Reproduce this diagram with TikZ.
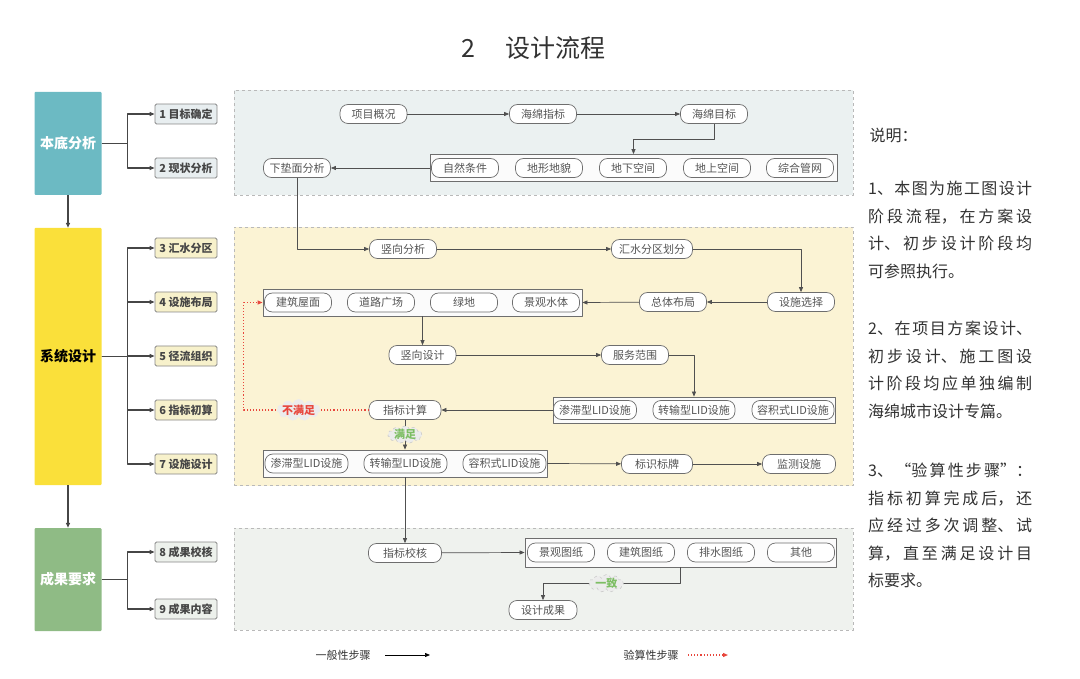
\documentclass[tikz,border=0pt]{standalone}
\usepackage{fontspec}
\setmainfont{Noto Sans CJK SC}
\usetikzlibrary{arrows.meta,shapes.symbols}
\XeTeXlinebreaklocale "zh"
\XeTeXlinebreakskip=0pt plus 3pt

\definecolor{bdcol}{RGB}{108,186,195}
\definecolor{xtcol}{RGB}{250,224,58}
\definecolor{cgcol}{RGB}{143,187,133}
\definecolor{paneA}{RGB}{235,241,241}
\definecolor{paneB}{RGB}{251,243,212}
\definecolor{paneC}{RGB}{239,242,238}
\definecolor{stepA}{RGB}{232,238,240}
\definecolor{stepB}{RGB}{247,241,203}
\definecolor{stepC}{RGB}{237,241,236}
\definecolor{stepline}{RGB}{135,135,135}
\definecolor{steptext}{RGB}{70,70,70}
\definecolor{itemline}{RGB}{110,110,110}
\definecolor{itemtext}{RGB}{85,85,85}
\definecolor{flowline}{RGB}{80,80,80}
\definecolor{branchline}{RGB}{70,70,70}
\definecolor{redline}{RGB}{232,70,60}
\definecolor{okgreen}{RGB}{125,190,100}
\definecolor{notetext}{RGB}{50,50,50}

\tikzset{
	stage/.style = {rectangle, draw = none, rounded corners = 1pt, minimum width = 67pt, minimum height = 103pt, font = \fontsize{14}{14}\selectfont\bfseries},
	stepbox/.style = {rectangle, draw = stepline, line width = .8pt, rounded corners = 1.5pt, minimum width = 62pt, minimum height = 20pt, inner sep = 0pt, font = \fontsize{11}{11}\selectfont\bfseries, text = steptext},
	item/.style = {rectangle, draw = itemline, fill = white, line width = .7pt, rounded corners = 8pt, minimum width = 67pt, minimum height = 19pt, inner sep = 0pt, font = \fontsize{11}{11}\selectfont, text = itemtext},
	group/.style = {rectangle, draw = itemline, fill = white!97!gray, line width = .8pt, inner sep = 0pt},
	panel/.style = {rectangle, draw = gray!55, dashed, line width = .6pt},
	flow/.style = {->, draw = flowline, line width = .7pt},
	branch/.style = {->, draw = branchline, line width = 1.4pt},
	check/.style = {->, draw = redline, dotted, line width = 1.1pt},
	cloudlbl/.style = {cloud, cloud puffs = 11, aspect = 3.2, inner sep = -1.5pt, fill = white!85!gray, draw = gray!45, dashed, line width = .5pt, font = \fontsize{11}{11}\selectfont\bfseries},
	note/.style = {text width = 164pt, align = justify, inner sep = 0pt, font = \fontsize{16}{27.5}\selectfont, text = notetext}
}

\begin{document}
\begin{tikzpicture}[x = 1pt, y = -1pt, line join = round, >={Triangle[length = 5pt, width = 4pt]}]
	\useasboundingbox (0,0) rectangle (1080,679);
	
	\node[anchor = west, font = \fontsize{25}{25}\selectfont, text = notetext] (title) at (458,48) {2\hspace{30pt}设计流程};
	
	% panels
	\node[panel, fill = paneA, minimum width = 619pt, minimum height = 105pt] (p1) at (543.5,143) {};
	\node[panel, fill = paneB, minimum width = 619pt, minimum height = 258pt] (p2) at (543.5,356.5) {};
	\node[panel, fill = paneC, minimum width = 619pt, minimum height = 102pt] (p3) at (543.5,579) {};
	
	% stages
	\node[stage, fill = bdcol, text = white] (bd) at (68,143.5) {本底分析};
	\node[stage, fill = xtcol, text = black, minimum height = 257pt] (xt) at (68,356.5) {系统设计};
	\node[stage, fill = cgcol, text = white] (cg) at (68,579.5) {成果要求};
	\draw[branch] (bd.south) -- (xt.north);
	\draw[branch] (xt.south) -- (cg.north);
	
	\node[stepbox, fill = stepA] (s1) at (186,114) {1 目标确定};
	\node[stepbox, fill = stepA] (s2) at (186,168) {2 现状分析};
	\node[stepbox, fill = stepB] (s3) at (186,248) {3 汇水分区};
	\node[stepbox, fill = stepB] (s4) at (186,302) {4 设施布局};
	\node[stepbox, fill = stepB] (s5) at (186,356) {5 径流组织};
	\node[stepbox, fill = stepB] (s6) at (186,410) {6 指标初算};
	\node[stepbox, fill = stepB] (s7) at (186,464) {7 设施设计};
	\node[stepbox, fill = stepC] (s8) at (186,552) {8 成果校核};
	\node[stepbox, fill = stepC] (s9) at (186,609) {9 成果内容};
	
	\foreach \s in {s1,s2} \draw[branch] (bd.east) -- ++(26,0) |- (\s.west);
	\foreach \s in {s3,s4,s5,s6,s7} \draw[branch] (xt.east) -- ++(26,0) |- (\s.west);
	\foreach \s in {s8,s9} \draw[branch] (cg.east) -- ++(26,0) |- (\s.west);
	
	% panel 1
	\node[item] (xmgk) at (373.5,114) {项目概况};
	\node[item] (hmzb) at (543,114) {海绵指标};
	\node[item] (hmmb) at (714,114) {海绵目标};
	\node[group, minimum width = 407pt, minimum height = 27pt] (g1) at (633.5,168) {};
	\node[item] (zrtj) at (465,168) {自然条件};
	\node[item] (dxdm) at (549,168) {地形地貌};
	\node[item] (dxkj) at (633,168) {地下空间};
	\node[item] (dskj) at (717,168) {地上空间};
	\node[item] (zhgw) at (800,168) {综合管网};
	\node[item] (xdmfx) at (297,168) {下垫面分析};
	
	\draw[flow] (xmgk) -- (hmzb);
	\draw[flow] (hmzb) -- (hmmb);
	\draw[flow] (hmmb.south) -- ++(0,16) -| (g1.north);
	\draw[flow] (g1.west) -- (xdmfx.east);
	
	% panel 2
	\node[item] (sxfx) at (403,249) {竖向分析};
	\node[item, minimum width = 81pt] (hsfq) at (652,249) {汇水分区划分};
	\node[item] (sszx) at (801,302) {设施选择};
	\node[item] (ztbj) at (673,302) {总体布局};
	\node[group, minimum width = 319pt, minimum height = 27pt] (g2) at (422.5,302.5) {};
	\node[item] (jzwm) at (298,302.5) {建筑屋面};
	\node[item] (dlgc) at (381,302.5) {道路广场};
	\node[item] (ld) at (464,302.5) {绿地};
	\node[item] (jgst) at (546,302.5) {景观水体};
	\node[item] (sxsj) at (422.5,355) {竖向设计};
	\node[item] (fwfw) at (635,355) {服务范围};
	\node[group, minimum width = 282pt, minimum height = 26pt] (g3) at (694,410) {};
	\node[item, minimum width = 83pt] (a1) at (595,410) {渗滞型LID设施};
	\node[item, minimum width = 82pt] (a2) at (694,410) {转输型LID设施};
	\node[item, minimum width = 82pt] (a3) at (793,410) {容积式LID设施};
	\node[item, minimum width = 72pt] (zbjs) at (405,410) {指标计算};
	\node[group, minimum width = 284pt, minimum height = 27pt] (g4) at (405,463.5) {};
	\node[item, minimum width = 83pt] (b1) at (306.5,463.5) {渗滞型LID设施};
	\node[item, minimum width = 83pt] (b2) at (405.5,463.5) {转输型LID设施};
	\node[item, minimum width = 83pt] (b3) at (504.5,463.5) {容积式LID设施};
	\node[item, minimum width = 71pt] (bsbp) at (657,464) {标识标牌};
	\node[item, minimum width = 73pt] (jcss) at (799,464) {监测设施};
	
	\draw[flow] (xdmfx.south) |- (sxfx.west);
	\draw[flow] (sxfx) -- (hsfq);
	\draw[flow] (hsfq.east) -| (sszx.north);
	\draw[flow] (sszx) -- (ztbj);
	\draw[flow] (ztbj) -- (g2.east);
	\draw[flow] (g2.south) -- (sxsj.north);
	\draw[flow] (sxsj) -- (fwfw);
	\draw[flow] (fwfw.east) -| (g3.north);
	\draw[flow] (g3.west) -- (zbjs.east);
	\draw[check] (zbjs.west) -- node[cloudlbl, pos = .56, draw = none, text = redline] {不满足} ++(-125,0) |- (g2.west);
	\draw[flow] (zbjs.south) -- node[cloudlbl, text = okgreen] {满足} (g4.north);
	\draw[flow] (g4.east) -- (bsbp);
	\draw[flow] (bsbp) -- (jcss);
	
	% panel 3
	\node[item, minimum width = 73pt] (zbjh) at (405,553) {指标校核};
	\node[group, minimum width = 311pt, minimum height = 29pt] (g5) at (680.5,552.5) {};
	\node[item] (jgtz) at (561,552.5) {景观图纸};
	\node[item] (jztz) at (641,552.5) {建筑图纸};
	\node[item] (pstz) at (721,552.5) {排水图纸};
	\node[item] (qt) at (801,552.5) {其他};
	\node[item, minimum width = 68pt] (sjcg) at (543,610) {设计成果};
	
	\draw[flow] (g4.south) -- (zbjh.north);
	\draw[flow] (zbjh) -- (g5.west);
	\draw[flow] (g5.south) -- ++(0,16) -| node[cloudlbl, pos = .27, text = okgreen] {一致} (sjcg.north);
	
	% legend
	\coordinate (l1a) at (385,655);
	\coordinate (l1b) at (430,655);
	\coordinate (l2a) at (688,655);
	\coordinate (l2b) at (728,655);
	\node[font = \fontsize{11}{11}\selectfont, text = notetext] (lg1) at (343,655) {一般性步骤};
	\node[font = \fontsize{11}{11}\selectfont, text = notetext] (lg2) at (651,655) {验算性步骤};
	\draw[flow, draw = black] (l1a) -- (l1b);
	\draw[check] (l2a) -- (l2b);
	
	% notes
	\node[anchor = west, font = \fontsize{16}{16}\selectfont, text = notetext] (sm) at (866,135) {说明：};
	\node[note, anchor = north west] (n1) at (868,181) {1、本图为施工图设计\linebreak 阶段流程，在方案设\linebreak 计、初步设计阶段均\linebreak 可参照执行。};
	\node[note, anchor = north west] (n2) at (868,321) {2、在项目方案设计、\linebreak 初步设计、施工图设\linebreak 计阶段均应单独编制\linebreak 海绵城市设计专篇。};
	\node[note, anchor = north west] (n3) at (868,463) {3、“验算性步骤”：\linebreak 指标初算完成后，还\linebreak 应经过多次调整、试\linebreak 算，直至满足设计目\linebreak 标要求。};
\end{tikzpicture}
\end{document}
